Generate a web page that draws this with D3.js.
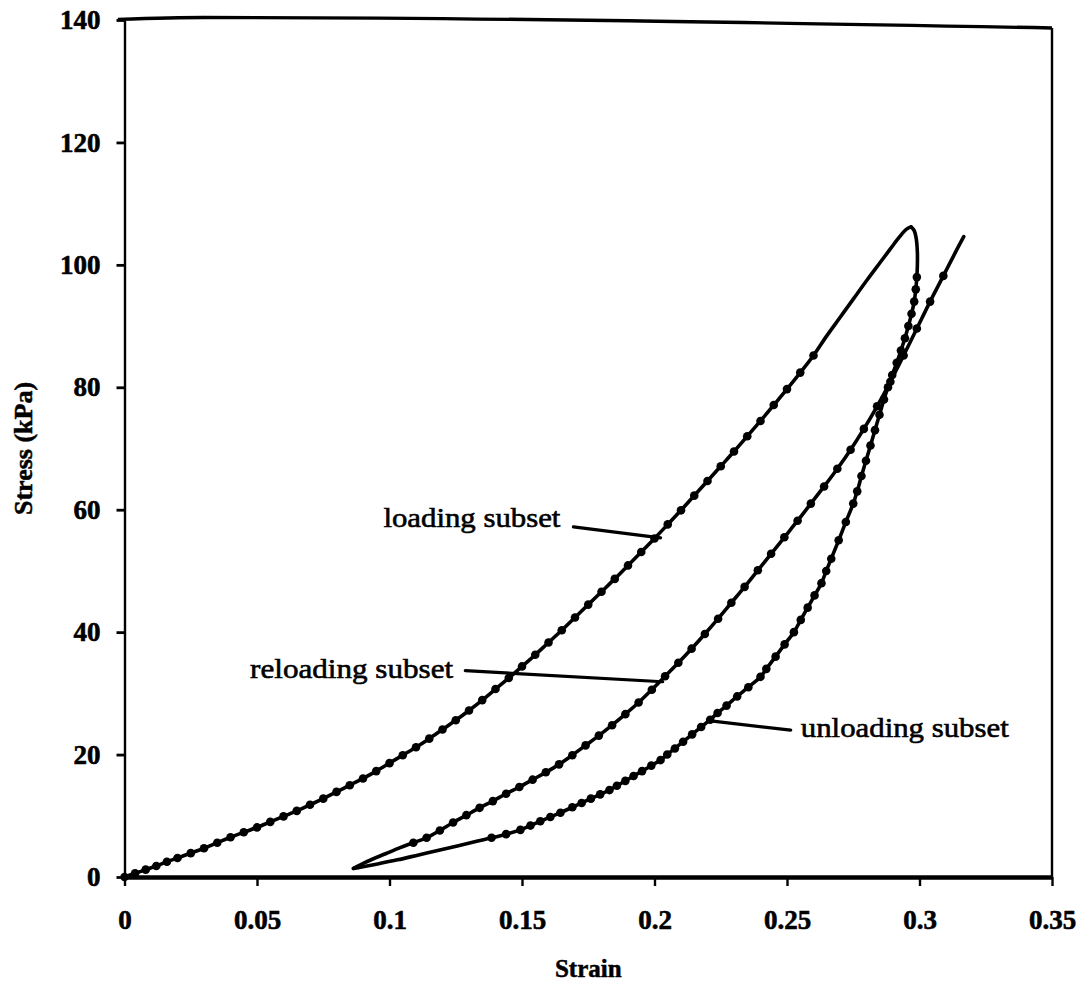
<!DOCTYPE html>
<html>
<head>
<meta charset="utf-8">
<script src="https://cdn.jsdelivr.net/npm/d3@7"></script>
<style>
  body { margin: 0; background: #fff; }
  svg { display: block; }
</style>
</head>
<body>
<script>
// Strain / stress pairs. "Beads" parts carry a marker on
// every point, "tail"/"toe" parts are plain line.
const loadingBeads = [
  [0,0],[0.004,0.6],[0.008,1.2],[0.012,1.8],[0.016,2.5],[0.020,3.1],[0.025,3.9],
  [0.030,4.7],[0.035,5.6],[0.040,6.5],[0.045,7.3],[0.050,8.1],[0.055,9.0],
  [0.060,9.9],[0.065,10.8],[0.070,11.8],[0.075,12.8],[0.080,13.9],[0.085,15.0],
  [0.090,16.1],[0.095,17.3],[0.100,18.6],[0.105,19.9],[0.110,21.2],[0.115,22.6],
  [0.120,24.1],[0.125,25.6],[0.130,27.2],[0.135,28.9],[0.140,30.7],[0.145,32.5],
  [0.150,34.4],[0.155,36.3],[0.160,38.3],[0.165,40.3],[0.170,42.4],[0.175,44.5],
  [0.180,46.6],[0.185,48.7],[0.190,50.9],[0.195,53.1],[0.200,55.3],[0.205,57.6],
  [0.210,59.9],[0.215,62.3],[0.220,64.7],[0.225,67.1],[0.230,69.5],[0.235,72.0],
  [0.240,74.5],[0.245,77.1],[0.250,79.7],[0.255,82.4],[0.260,85.2]
];
const loadingTail = [
  [0.265,88.4],[0.270,91.4],[0.275,94.4],[0.280,97.4],[0.285,100.3],[0.289,102.6],
  [0.2925,104.6],[0.2950,105.8],[0.2968,106.2]
];

const unloadingTop = [
  [0.2968,106.2],[0.2980,105.6],[0.2988,104.2],[0.2992,102.0],[0.2992,100.0]
];
const unloadingBeads = [
  [0.2990,98.0],[0.2986,96.0],[0.2980,94.0],[0.2970,92.0],[0.2958,90.0],[0.2945,88.0],
  [0.2930,86.0],[0.2914,84.0],[0.2897,82.0],[0.2881,80.0],[0.2866,78.0],[0.2849,75.5],
  [0.2832,73.0],[0.2815,70.5],[0.2798,68.0],[0.2781,65.5],[0.2765,63.0],[0.2750,61.0],
  [0.2722,58.0],[0.2695,55.0],[0.2667,52.0],[0.2648,50.0],[0.2630,48.0],[0.2604,46.0],
  [0.2578,44.0],[0.2552,42.0],[0.2526,40.0],[0.2491,38.0],[0.2457,36.0],[0.2422,34.0],
  [0.2400,32.7],[0.2354,31.0],[0.2312,29.5],[0.2272,28.0],[0.2238,26.8],[0.2210,25.7],
  [0.2176,24.5],[0.2142,23.3],[0.2108,22.1],[0.2077,21.0],[0.2048,20.0],[0.2023,19.1],
  [0.1988,18.2],[0.1953,17.3],[0.1921,16.5],[0.1890,15.7],[0.1858,14.9],[0.1830,14.2],
  [0.1795,13.5],[0.1760,12.8],[0.1725,12.1],[0.1690,11.4],[0.1645,10.5],[0.1607,9.8],
  [0.1569,9.1],[0.1532,8.4],[0.1494,7.7],[0.1440,7.0],[0.1385,6.4]
];
const unloadingToe = [
  [0.1325,5.8],[0.1260,5.1],[0.1190,4.4],[0.1110,3.6],[0.1030,2.8],[0.0950,2.1],
  [0.0890,1.6],[0.0864,1.4]
];

const reloadingToe = [
  [0.0864,1.4],[0.0890,2.0],[0.0935,2.9],[0.0985,3.8],[0.1040,4.8]
];
const reloadingBeads = [
  [0.109,5.6],[0.114,6.4],[0.119,7.6],[0.124,8.9],[0.129,10.1],[0.134,11.3],
  [0.139,12.4],[0.144,13.6],[0.149,14.7],[0.154,15.9],[0.159,17.1],[0.164,18.4],
  [0.169,19.9],[0.174,21.5],[0.179,23.1],[0.184,24.8],[0.189,26.6],[0.194,28.5],
  [0.199,30.6],[0.204,32.8],[0.209,35.0],[0.214,37.3],[0.219,39.7],[0.224,42.2],
  [0.229,44.8],[0.234,47.4],[0.239,50.1],[0.244,52.8],[0.249,55.5],[0.254,58.2],
  [0.259,61.0],[0.264,63.8],[0.269,66.7],[0.274,69.8],[0.279,73.2],[0.284,76.9],
  [0.289,80.9],[0.294,85.2],[0.299,89.6],[0.304,94.0],[0.309,98.2]
];
const reloadingTail = [
  [0.3135,102.0],[0.3167,104.6]
];

const xTicks = [0, 0.05, 0.1, 0.15, 0.2, 0.25, 0.3, 0.35];
const xTickLabels = ["0", "0.05", "0.1", "0.15", "0.2", "0.25", "0.3", "0.35"];
const yTicks = [0, 20, 40, 60, 80, 100, 120, 140];

// label text, where the text starts (strain, stress at baseline), leader from -> to
const notes = [
  { text: "loading subset",   at: [0.0977, 57.2], from: [0.1694, 57.2], to: [0.2023, 55.4], len: 177 },
  { text: "reloading subset", at: [0.0474, 32.5], from: [0.1286, 33.7], to: [0.2031, 31.9], len: 203 },
  { text: "unloading subset", at: [0.2552, 22.9], from: [0.2514, 24.0], to: [0.2212, 25.5], len: 208 }
];

// top edge of the frame in the scan is slightly skewed
const frameTop = [[-0.0025, 140.1], [0.03, 140.4], [0.35, 138.7]];

const width = 1088, height = 989;
const plotLeft = 124.5, plotRight = 1052, plotTop = 20, plotBottom = 877;
const serif = "'Liberation Serif', 'Times New Roman', serif";

const svg = d3.select("body").append("svg")
  .attr("width", width)
  .attr("height", height);

const x = d3.scaleLinear().domain([0, 0.35]).range([plotLeft, plotRight]);
const y = d3.scaleLinear().domain([0, 140]).range([plotBottom, plotTop]);

// Frame (top and right edges)
svg.append("path")
  .datum(frameTop)
  .attr("fill", "none")
  .attr("stroke", "#000").attr("stroke-width", 3.4)
  .attr("d", d3.line().x(d => x(d[0])).y(d => y(d[1])).curve(d3.curveMonotoneX));
svg.append("line")
  .attr("x1", x(0.35)).attr("x2", x(0.35))
  .attr("y1", y(frameTop[2][1])).attr("y2", y(0))
  .attr("stroke", "#000").attr("stroke-width", 2.4);

// Axes
const xAxis = d3.axisBottom(x)
  .tickValues(xTicks)
  .tickFormat((d, i) => xTickLabels[i])
  .tickSize(9)
  .tickSizeOuter(0)
  .tickPadding(24);

const yAxis = d3.axisLeft(y)
  .tickValues(yTicks)
  .tickFormat(d3.format("d"))
  .tickSize(8)
  .tickSizeOuter(0)
  .tickPadding(16);

const gx = svg.append("g")
  .attr("transform", `translate(0,${plotBottom})`)
  .call(xAxis);
gx.select(".domain").attr("stroke-width", 4.5);
gx.selectAll(".tick line").attr("stroke-width", 2.4);

const gy = svg.append("g")
  .attr("transform", `translate(${plotLeft},0)`)
  .call(yAxis);
gy.select(".domain").attr("stroke-width", 2.4);
gy.selectAll(".tick line").attr("stroke-width", 2.8);

svg.selectAll(".tick text")
  .attr("font-family", serif)
  .attr("font-weight", "bold")
  .attr("font-size", 27)
  .attr("fill", "#000")
  .attr("stroke", "#000")
  .attr("stroke-width", 0.6);

// Axis titles
svg.append("text")
  .attr("x", (plotLeft + plotRight) / 2)
  .attr("y", 977)
  .attr("text-anchor", "middle")
  .attr("font-family", serif)
  .attr("font-weight", "bold")
  .attr("font-size", 25)
  .attr("stroke", "#000")
  .attr("stroke-width", 0.5)
  .text("Strain");

svg.append("text")
  .attr("transform", `translate(32,${(plotTop + plotBottom) / 2}) rotate(-90)`)
  .attr("text-anchor", "middle")
  .attr("font-family", serif)
  .attr("font-weight", "bold")
  .attr("font-size", 26)
  .attr("stroke", "#000")
  .attr("stroke-width", 0.5)
  .text("Stress (kPa)");

// Curves
const line = d3.line()
  .x(d => x(d[0]))
  .y(d => y(d[1]))
  .curve(d3.curveCatmullRom);

const series = [
  { path: loadingBeads.concat(loadingTail), beads: loadingBeads },
  { path: unloadingTop.concat(unloadingBeads, unloadingToe), beads: unloadingBeads },
  { path: reloadingToe.concat(reloadingBeads, reloadingTail), beads: reloadingBeads }
];

series.forEach(s => {
  svg.append("path")
    .datum(s.path)
    .attr("fill", "none")
    .attr("stroke", "#000")
    .attr("stroke-width", 3.6)
    .attr("stroke-linejoin", "round")
    .attr("stroke-linecap", "round")
    .attr("d", line);

  svg.append("g")
    .selectAll("circle")
    .data(s.beads)
    .join("circle")
    .attr("cx", d => x(d[0]))
    .attr("cy", d => y(d[1]))
    .attr("r", 4.3)
    .attr("fill", "#000");
});

// Labels with leader lines
notes.forEach(n => {
  svg.append("line")
    .attr("x1", x(n.from[0])).attr("y1", y(n.from[1]))
    .attr("x2", x(n.to[0])).attr("y2", y(n.to[1]))
    .attr("stroke", "#000")
    .attr("stroke-width", 3.2)
    .attr("stroke-linecap", "round");

  svg.append("text")
    .attr("x", x(n.at[0]))
    .attr("y", y(n.at[1]))
    .attr("font-family", serif)
    .attr("font-size", 28)
    .attr("stroke", "#000")
    .attr("stroke-width", 0.6)
    .attr("textLength", n.len)
    .attr("lengthAdjust", "spacingAndGlyphs")
    .text(n.text);
});
</script>
</body>
</html>
